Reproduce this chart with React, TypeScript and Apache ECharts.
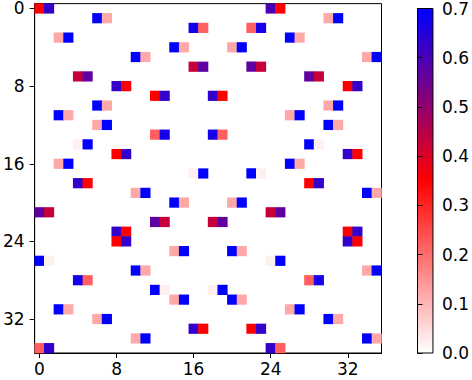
import React, { useEffect, useRef } from "react";
import * as echarts from "echarts";

const N = 36;
const categories: string[] = Array.from({ length: N }, (_, i) => String(i));
const tickLabels = ["0", "8", "16", "24", "32"];
const colorbarTicks = [0, 0.1, 0.2, 0.3, 0.4, 0.5, 0.6, 0.7];
const colorStops = ["#ffffff", "#ff0000", "#0000ff"];
const vMin = 0;
const vMax = 0.7;

// [row, col, value]
const cells: [number, number, number][] = [
  [0, 0, 0.35], [0, 1, 0.63], [0, 24, 0.6], [0, 25, 0.35],
  [1, 6, 0.7], [1, 7, 0.12], [1, 30, 0.12], [1, 31, 0.7],
  [2, 16, 0.67], [2, 17, 0.22], [2, 22, 0.22], [2, 23, 0.67],
  [3, 2, 0.12], [3, 3, 0.7], [3, 26, 0.7], [3, 27, 0.12],
  [4, 14, 0.7], [4, 15, 0.12], [4, 20, 0.12], [4, 21, 0.7],
  [5, 10, 0.7], [5, 11, 0.12], [5, 34, 0.12], [5, 35, 0.7],
  [6, 16, 0.43], [6, 17, 0.57], [6, 22, 0.57], [6, 23, 0.43],
  [7, 4, 0.43], [7, 5, 0.57], [7, 28, 0.57], [7, 29, 0.43],
  [8, 8, 0.63], [8, 9, 0.35], [8, 32, 0.35], [8, 33, 0.63],
  [9, 12, 0.35], [9, 13, 0.63], [9, 18, 0.63], [9, 19, 0.35],
  [10, 6, 0.7], [10, 7, 0.12], [10, 30, 0.12], [10, 31, 0.7],
  [11, 2, 0.7], [11, 3, 0.12], [11, 26, 0.12], [11, 27, 0.7],
  [12, 6, 0.12], [12, 7, 0.7], [12, 30, 0.7], [12, 31, 0.12],
  [13, 12, 0.22], [13, 13, 0.67], [13, 18, 0.67], [13, 19, 0.22],
  [14, 4, 0.02], [14, 5, 0.7], [14, 28, 0.7], [14, 29, 0.02],
  [15, 8, 0.35], [15, 9, 0.63], [15, 32, 0.63], [15, 33, 0.35],
  [16, 2, 0.12], [16, 3, 0.7], [16, 26, 0.7], [16, 27, 0.12],
  [17, 16, 0.02], [17, 17, 0.7], [17, 22, 0.7], [17, 23, 0.02],
  [18, 4, 0.63], [18, 5, 0.35], [18, 28, 0.35], [18, 29, 0.63],
  [19, 10, 0.12], [19, 11, 0.7], [19, 34, 0.7], [19, 35, 0.12],
  [20, 14, 0.7], [20, 15, 0.12], [20, 20, 0.12], [20, 21, 0.7],
  [21, 0, 0.57], [21, 1, 0.43], [21, 24, 0.43], [21, 25, 0.57],
  [22, 12, 0.57], [22, 13, 0.43], [22, 18, 0.43], [22, 19, 0.57],
  [23, 8, 0.63], [23, 9, 0.35], [23, 32, 0.35], [23, 33, 0.63],
  [24, 8, 0.35], [24, 9, 0.63], [24, 32, 0.63], [24, 33, 0.35],
  [25, 14, 0.12], [25, 15, 0.7], [25, 20, 0.7], [25, 21, 0.12],
  [26, 0, 0.7], [26, 1, 0.02], [26, 24, 0.02], [26, 25, 0.7],
  [27, 10, 0.7], [27, 11, 0.12], [27, 34, 0.12], [27, 35, 0.7],
  [28, 4, 0.67], [28, 5, 0.22], [28, 28, 0.22], [28, 29, 0.67],
  [29, 12, 0.7], [29, 13, 0.02], [29, 18, 0.02], [29, 19, 0.7],
  [30, 14, 0.12], [30, 15, 0.7], [30, 20, 0.7], [30, 21, 0.12],
  [31, 2, 0.7], [31, 3, 0.12], [31, 26, 0.12], [31, 27, 0.7],
  [32, 6, 0.12], [32, 7, 0.7], [32, 30, 0.7], [32, 31, 0.12],
  [33, 16, 0.63], [33, 17, 0.35], [33, 22, 0.35], [33, 23, 0.63],
  [34, 10, 0.12], [34, 11, 0.7], [34, 34, 0.7], [34, 35, 0.12],
  [35, 0, 0.22], [35, 1, 0.63], [35, 24, 0.63], [35, 25, 0.22],
];

export default function App() {
  const ref = useRef<HTMLDivElement>(null);
  useEffect(() => {
    const chart = echarts.init(ref.current!, null, { renderer: "svg" });
    const fontFamily = "DejaVu Sans";
    const showTick = (i: number) => tickLabels.includes(categories[i]);
    const lineStyle = { color: "#000", width: 1 };
    const gradient = new echarts.graphic.LinearGradient(0, 0, 0, 1, [
      { offset: 0, color: colorStops[2] },
      { offset: 0.5, color: colorStops[1] },
      { offset: 1, color: colorStops[0] },
    ]);
    chart.setOption({
      animation: false,
      backgroundColor: "#ffffff",
      grid: [
        {
          left: 31, top: 3, width: 350.5, height: 350,
          show: true, borderColor: "#000", borderWidth: 1, backgroundColor: "transparent",
        },
        {
          left: 417.5, top: 3, width: 17, height: 350,
          show: true, borderColor: "#000", borderWidth: 1, backgroundColor: gradient,
        },
      ],
      xAxis: [
        {
          type: "category", data: categories, gridIndex: 0, position: "bottom",
          axisLine: { show: true, lineStyle },
          axisTick: { show: true, alignWithLabel: true, interval: (i: number) => showTick(i), length: 5, lineStyle },
          axisLabel: { interval: (i: number) => showTick(i), margin: 7, fontSize: 17, fontFamily, color: "#000" },
          splitLine: { show: false },
        },
        { type: "value", gridIndex: 1, show: false, min: 0, max: 1 },
      ],
      yAxis: [
        {
          type: "category", data: categories, gridIndex: 0, inverse: true,
          axisLine: { show: true, lineStyle },
          axisTick: { show: true, alignWithLabel: true, interval: (i: number) => showTick(i), length: 5, lineStyle },
          axisLabel: { interval: (i: number) => showTick(i), margin: 10, fontSize: 17, fontFamily, color: "#000" },
          splitLine: { show: false },
        },
        {
          type: "value", gridIndex: 1, position: "right", min: vMin, max: vMax, interval: 0.1,
          axisLine: { show: true, lineStyle },
          axisTick: { show: true, length: 5, lineStyle },
          axisLabel: {
            margin: 9, fontSize: 17, fontFamily, color: "#000",
            formatter: (v: number) => {
              const m = colorbarTicks.find((t) => Math.abs(t - v) < 1e-6);
              return m === undefined ? "" : m.toFixed(1);
            },
          },
          splitLine: { show: false },
        },
      ],
      visualMap: {
        type: "continuous", show: false, min: vMin, max: vMax, dimension: 2, seriesIndex: 0,
        inRange: { color: colorStops },
      },
      series: [
        {
          type: "heatmap", xAxisIndex: 0, yAxisIndex: 0,
          data: cells.map(([r, c, v]) => [c, r, v]),
          emphasis: { disabled: true },
        },
        { type: "line", xAxisIndex: 1, yAxisIndex: 1, data: [], silent: true },
      ],
    });
    return () => chart.dispose();
  }, []);
  return <div ref={ref} style={{ position: "fixed", left: 0, top: 0, width: 472, height: 380 }} />;
}
